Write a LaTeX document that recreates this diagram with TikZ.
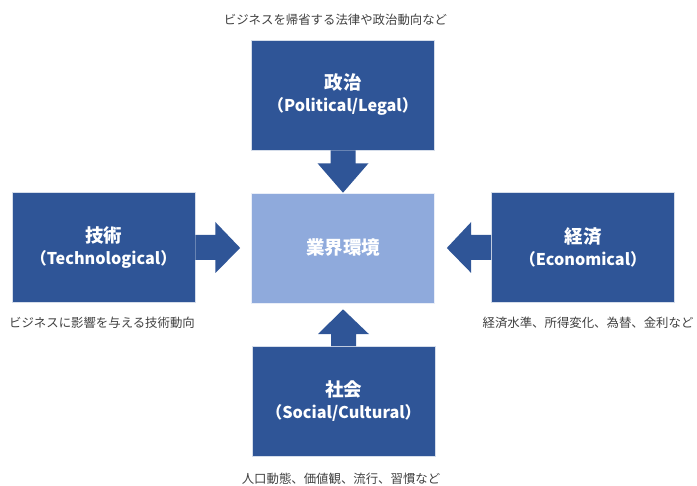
\documentclass[tikz,border=0pt]{standalone}
\usepackage{fontspec}
\setmainfont{Noto Sans CJK JP}
\usetikzlibrary{calc}
\definecolor{darkbox}{HTML}{2F5597}
\definecolor{lightbox}{HTML}{8FAADC}
\definecolor{labelgray}{HTML}{404040}
\tikzset{
  factor/.style={fill=darkbox, draw=white!80!darkbox, line width=0.6pt, text=white, align=center,
    minimum width=183pt, minimum height=110pt, inner sep=0pt,
    font=\fontsize{16.2}{21}\selectfont\bfseries},
  core/.style={fill=lightbox, draw=white!80!lightbox, line width=0.6pt, text=white,
    minimum width=183pt, minimum height=110pt, inner sep=0pt,
    font=\fontsize{18.5}{20}\selectfont\bfseries},
  note/.style={text=labelgray, inner sep=0pt, font=\fontsize{12.4}{14}\selectfont},
  bigarrow/.style={fill=darkbox, draw=none}
}
\newcommand{\ttl}[1]{{\fontsize{18.5}{22}\selectfont #1}\\[1pt]}
\begin{document}
\begin{tikzpicture}[x=1pt,y=-1pt]
\useasboundingbox (0,0) rectangle (697,486);
\node[factor] (pol) at (343,95) {\ttl{政治}（Political/Legal）};
\node[core] (env) at (343,248) {業界環境};
\node[factor] (tec) at (103.5,247.5) {\ttl{技術}（Technological）};
\node[factor] (eco) at (583,247.5) {\ttl{経済}（Economical）};
\node[factor] (soc) at (343.5,401.5) {\ttl{社会}（Social/Cultural）};

\node[note] (polnote) at (335.5,20) {ビジネスを帰省する法律や政治動向など};
\node[note] (tecnote) at (102,323) {ビジネスに影響を与える技術動向};
\node[note] (econote) at (588,323) {経済水準、所得変化、為替、金利など};
\node[note] (socnote) at (341,479) {人口動態、価値観、流行、習慣など};

% top arrow
\fill[bigarrow] ($(pol.south)+(-12.5,0)$) -- ($(pol.south)+(12.5,0)$) -- ($(pol.south)+(12.5,13)$)
  -- ($(pol.south)+(25.5,13)$) -- (env.north) -- ($(pol.south)+(-25.5,13)$)
  -- ($(pol.south)+(-12.5,13)$) -- cycle;
% bottom arrow
\fill[bigarrow] ($(soc.north)+(-12.5,0)$) -- ($(soc.north)+(12.5,0)$) -- ($(soc.north)+(12.5,-12)$)
  -- ($(soc.north)+(25.5,-12)$) -- ($(env.south)+(0,6)$) -- ($(soc.north)+(-25.5,-12)$)
  -- ($(soc.north)+(-12.5,-12)$) -- cycle;
% left arrow
\fill[bigarrow] ($(tec.east)+(0,-12.5)$) -- ($(tec.east)+(0,12.5)$) -- ($(tec.east)+(20,12.5)$)
  -- ($(tec.east)+(20,25.5)$) -- ($(env.west)+(-11,0)$) -- ($(tec.east)+(20,-25.5)$)
  -- ($(tec.east)+(20,-12.5)$) -- cycle;
% right arrow
\fill[bigarrow] ($(eco.west)+(0,-12.5)$) -- ($(eco.west)+(0,12.5)$) -- ($(eco.west)+(-20,12.5)$)
  -- ($(eco.west)+(-20,25.5)$) -- ($(env.east)+(12,0)$) -- ($(eco.west)+(-20,-25.5)$)
  -- ($(eco.west)+(-20,-12.5)$) -- cycle;
\end{tikzpicture}
\end{document}
